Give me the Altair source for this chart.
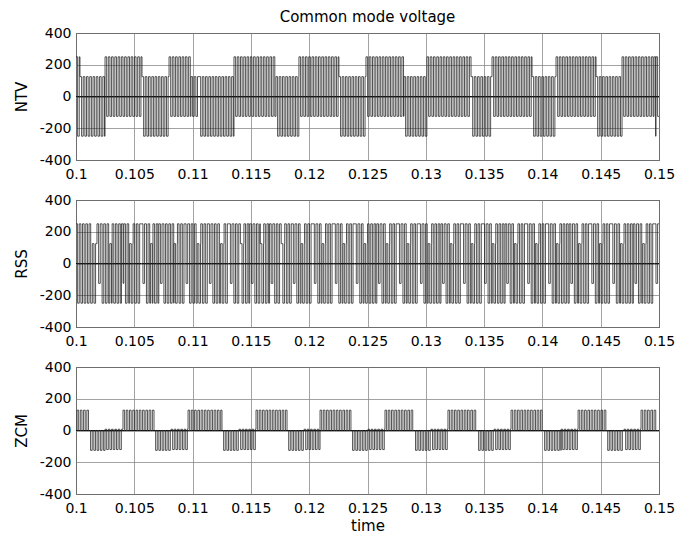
import altair as alt
import pandas as pd

# ---- axes -------------------------------------------------------------
x_ticks = [0.1, 0.105, 0.11, 0.115, 0.12, 0.125, 0.13, 0.135, 0.14, 0.145, 0.15]
y_ticks = [-400, -200, 0, 200, 400]

half_period = 0.00014

# ---- NTV: segment edges (s), segment kinds, and (high, low) levels ----
ntv_edges = [0.1, 0.10034, 0.10249, 0.10566, 0.10798, 0.10986, 0.11055, 0.11355,
             0.11715, 0.11912, 0.12255, 0.12487, 0.12813, 0.1301, 0.13388, 0.13568,
             0.13911, 0.14117, 0.1446, 0.14683, 0.14957, 0.14974, 0.15]
ntv_kinds = ["F", "A", "B", "A", "B", "M", "A", "B", "A", "B", "A",
             "B", "A", "B", "A", "B", "A", "B", "A", "B", "F", "B"]
ntv_levels = {"F": (250, -250), "A": (125, -250), "B": (250, -125), "M": (125, -125)}

# ---- RSS ---------------------------------------------------------------
rss_edges = [0.1, 0.1014, 0.1018, 0.1018, 0.1021, 0.1029, 0.1031, 0.1039, 0.1041,
             0.1046, 0.1049, 0.1056, 0.1059, 0.1064, 0.1066, 0.1071, 0.1074,
             0.1084, 0.1087, 0.1093, 0.1096, 0.1104, 0.1107, 0.1113, 0.1116,
             0.1124, 0.1127, 0.1131, 0.1134, 0.1141, 0.1144, 0.1149, 0.1152,
             0.1158, 0.1161, 0.1166, 0.1169, 0.1176, 0.1179, 0.1185, 0.1188,
             0.1193, 0.1196, 0.1203, 0.1206, 0.1211, 0.1214, 0.1221, 0.1224,
             0.1229, 0.1232, 0.1239, 0.1242, 0.1247, 0.125, 0.1258, 0.1261,
             0.1266, 0.1269, 0.1276, 0.1279, 0.1284, 0.1287, 0.1294, 0.1297,
             0.1302, 0.1305, 0.1313, 0.1316, 0.1321, 0.1324, 0.1331, 0.1334,
             0.1339, 0.1342, 0.1349, 0.1352, 0.1357, 0.136, 0.1368, 0.1371,
             0.1376, 0.1379, 0.1386, 0.1389, 0.1394, 0.1397, 0.1404, 0.1407,
             0.1412, 0.1415, 0.1423, 0.1426, 0.1431, 0.1434, 0.1441, 0.1444,
             0.1449, 0.1452, 0.1459, 0.1462, 0.1467, 0.147, 0.1478, 0.1481,
             0.1486, 0.1489, 0.1496, 0.15]
rss_kinds = (["F", "L", "F", "U", "F", "L", "F", "U", "F", "L", "F", "U", "F", "L",
              "F", "U", "F", "L", "F", "U", "F", "L", "F", "U", "F", "L", "F", "U",
              "F", "L", "F", "U", "F", "L", "F", "U", "F", "L", "F", "U", "F", "L",
              "F", "U", "F", "L", "F", "U", "F", "L", "F", "U", "F", "L", "F", "U",
              "F", "L", "F", "U", "F", "L", "F", "U", "F", "L", "F", "U", "F", "L",
              "F", "U", "F", "L", "F", "U", "F", "L", "F", "U", "F", "L", "F", "U",
              "F", "L", "F", "U", "F", "L", "F", "U", "F", "L", "F", "U", "F", "L",
              "F", "U", "F", "L", "F", "U", "F", "L", "F", "U"])
rss_levels = {"F": (250, -250), "U": (250, -125), "L": (125, -250)}

# ---- ZCM ---------------------------------------------------------------
zcm_edges = [0.1, 0.10009, 0.10111, 0.10249, 0.10403, 0.10669, 0.10815, 0.10961,
             0.11252, 0.11398, 0.11544, 0.11810, 0.11956, 0.12093, 0.12358,
             0.12504, 0.12650, 0.12898, 0.13044, 0.13190, 0.13439, 0.13585,
             0.13731, 0.14005, 0.14160, 0.14306, 0.14546, 0.14700, 0.14846,
             0.14974, 0.15]
zcm_kinds = ["Z", "P", "N", "S", "P", "N", "S", "P", "N", "S", "P", "N", "S", "P",
             "N", "S", "P", "N", "S", "P", "N", "S", "P", "N", "S", "P", "N", "S",
             "P", "Z"]
zcm_levels = {"Z": (0, 0), "P": (128, 0), "N": (0, -125), "S": (8, -120)}


def waveform(edges, kinds, levels):
    ts, vs = [], []
    for i, kind in enumerate(kinds):
        hi, lo = levels[kind]
        t = edges[i]
        k = 0
        while t < edges[i + 1] - 1e-9:
            ts.append(t)
            vs.append(hi if k % 2 == 0 else lo)
            t += half_period
            k += 1
    ts.append(edges[-1])
    vs.append(vs[-1])
    return pd.DataFrame({"t": ts, "v": vs, "i": range(len(ts)), "z": 0})


FONT = "DejaVu Sans"


def panel(df, ytitle, last=False, top=False):
    xaxis_kw = dict(values=x_ticks, format="~g", labelPadding=7, labelFlush=False)
    if last:
        xaxis_kw["title"] = "time"
        xaxis_kw["titlePadding"] = 3
    else:
        xaxis_kw["title"] = ""
    xenc = alt.X("t:Q", scale=alt.Scale(domain=[0.1, 0.15], nice=False, zero=False),
                 axis=alt.Axis(**xaxis_kw))
    yaxis = alt.Axis(values=y_ticks, title=ytitle, labelPadding=5,
                     titlePadding=10, labelFlush=False,
                     labelOverlap=False, labelExpr="'' + datum.value")
    yscale = alt.Scale(domain=[-400, 400], nice=False)
    base = alt.Chart(df)
    wave = base.mark_line(
        interpolate="step-after", color="#1a1a1a", strokeWidth=0.75, clip=True
    ).encode(
        x=xenc,
        y=alt.Y("v:Q", scale=yscale, axis=yaxis),
        order="i:Q",
    )
    zero = base.mark_line(color="#111", strokeWidth=1).encode(
        x=xenc, y=alt.Y("z:Q", scale=yscale, axis=yaxis), order="i:Q"
    )
    props = dict(width=583, height=127)
    if top:
        props["title"] = alt.TitleParams(
            "Common mode voltage", font=FONT, fontSize=15, fontWeight="normal",
            anchor="middle", offset=1, color="black", frame="group")
    return alt.layer(wave, zero).properties(**props)


p1 = panel(waveform(ntv_edges, ntv_kinds, ntv_levels), "NTV", top=True)
p2 = panel(waveform(rss_edges, rss_kinds, rss_levels), "RSS")
p3 = panel(waveform(zcm_edges, zcm_kinds, zcm_levels), "ZCM", last=True)

chart = alt.vconcat(p1, p2, p3, spacing=40, bounds="flush").properties(
    padding={"left": 5, "top": 1, "right": 5, "bottom": 0},
    background="white",
).configure_view(
    stroke="black", strokeWidth=1
).configure_axis(
    grid=True, gridColor="#8a8a8a", gridWidth=0.8, domain=False, ticks=False,
    labelFont=FONT, labelFontSize=14, labelColor="black",
    titleFont=FONT, titleFontSize=15, titleFontWeight="normal", titleColor="black",
)

chart.save("out.html", embed_options={"renderer": "svg", "actions": False})
